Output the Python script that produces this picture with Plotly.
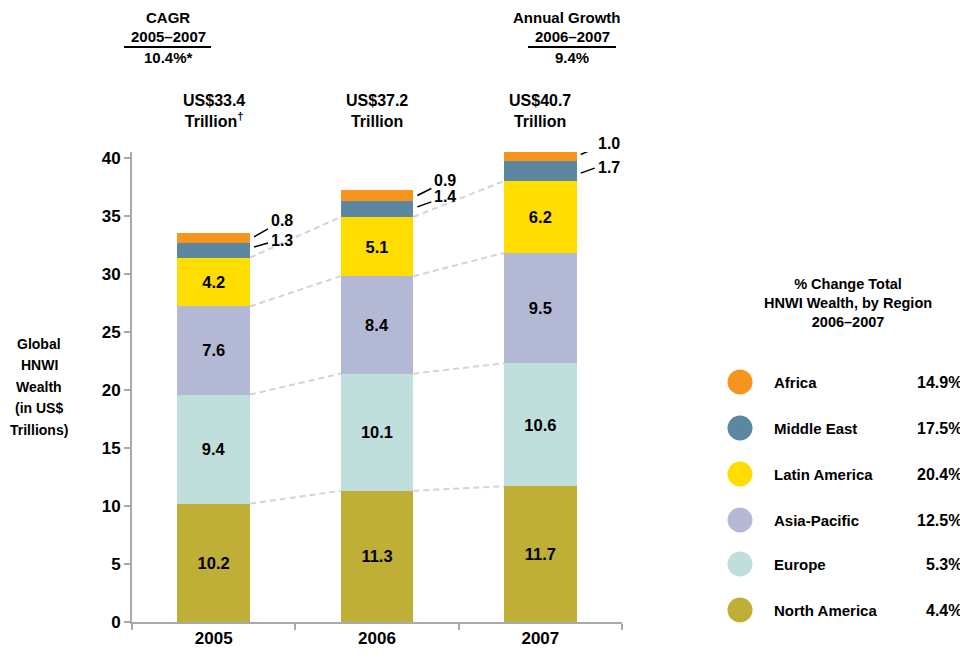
import plotly.graph_objects as go

# ---------------- data ----------------
years = ["2005", "2006", "2007"]
regions = ["North America", "Europe", "Asia-Pacific", "Latin America", "Middle East", "Africa"]
north_america = [10.2, 11.3, 11.7]
europe = [9.4, 10.1, 10.6]
asia_pacific = [7.6, 8.4, 9.5]
latin_america = [4.2, 5.1, 6.2]
middle_east = [1.3, 1.4, 1.7]
africa = [0.8, 0.9, 1.0]
totals = [33.4, 37.2, 40.7]
total_marks = ["†", "", ""]
pct_change = [4.4, 5.3, 12.5, 20.4, 17.5, 14.9]  # 2006-2007, same order as regions
cagr_2005_2007 = 10.4
growth_2006_2007 = 9.4
yticks = [0, 5, 10, 15, 20, 25, 30, 35, 40]

colors = ["#BFAF37", "#BFDEDC", "#B3B8D4", "#FFDD00", "#5C87A0", "#F7941E"]
series = [north_america, europe, asia_pacific, latin_america, middle_east, africa]

# ---------------- layout constants ----------------
W, H = 968, 660
OFF = 8  # page body margin
# plot area in page pixels: x 132..622, y 152..622
PL, PR, PT, PB = 132, 622, 152, 622
L, R, T, B = PL - OFF, W - (PR - OFF), PT - OFF, H - (PB - OFF)
PW, PH = PR - PL, PB - PT
FONT = "Liberation Sans, Arial, sans-serif"
BW = 0.445
YMAX = 40.5


def px(xp):
    return (xp - PL) / PW


def py(yp):
    return (PB - yp) / PH


fig = go.Figure()
x_idx = list(range(len(years)))

for k, (name, vals, col) in enumerate(zip(regions, series, colors)):
    bar = dict(x=x_idx, y=vals, name=name, marker=dict(color=col, line=dict(width=0)),
               width=BW, hoverinfo="skip", showlegend=False)
    if k < 4:  # large segments carry their value inside
        bar.update(text=[f"{v:.1f}" for v in vals], textposition="inside",
                   insidetextanchor="middle", textangle=0, constraintext="none",
                   textfont=dict(family=FONT, size=16.5, color="black", weight=700))
    else:
        bar.update(textposition="none")
    fig.add_trace(go.Bar(**bar))

# cumulative tops
cum = []
run = [0.0] * len(years)
for vals in series:
    run = [a + b for a, b in zip(run, vals)]
    cum.append(run[:])

shapes = []
annotations = []

# dashed connectors for the first four regions
for k in range(4):
    for i in range(len(years) - 1):
        shapes.append(dict(type="line", xref="x", yref="y",
                           x0=i + BW / 2, y0=cum[k][i], x1=i + 1 - BW / 2, y1=cum[k][i + 1],
                           line=dict(color="#D4D4D4", width=2, dash="6px,4px"), layer="below"))

# leader lines + labels for small segments (pixel offsets per year: line start, line end, label)
leader_style = {
    5: ([1, 0, 1], [9, 7, 7], [17, 15, 12]),   # Africa
    4: ([3, 2, -2], [7, 7, 3], [10, 12, 4]),   # Middle East
}
for k, (starts, ends, labs) in leader_style.items():
    for i in range(len(years)):
        bottom = cum[k][i] - series[k][i]
        mid = bottom + series[k][i] / 2
        shapes.append(dict(type="line", xref="x", yref="y",
                           xsizemode="pixel", xanchor=i + BW / 2, x0=4, x1=18,
                           ysizemode="pixel", yanchor=mid, y0=starts[i], y1=ends[i],
                           line=dict(color="black", width=1.5)))
        annotations.append(dict(x=i + BW / 2, y=mid, xref="x", yref="y", xshift=19, yshift=labs[i],
                                text=f"{series[k][i]:.1f}", showarrow=False, xanchor="left",
                                yanchor="middle",
                                font=dict(family=FONT, size=16, color="black", weight=700)))

# totals above bars
for i, (t, m) in enumerate(zip(totals, total_marks)):
    annotations.append(dict(x=i, y=py(111), xref="x", yref="paper", showarrow=False,
                            text=f"US${t:.1f}<br>Trillion{('<sup>' + m + '</sup>') if m else ''}",
                            font=dict(family=FONT, size=16, color="black", weight=700),
                            align="center", xanchor="center", yanchor="middle"))


# header: CAGR & annual growth
def header(cx, lines, ul_x0, ul_x1, cx_first=None):
    ys = [17, 37, 57]
    for j, (line, yy) in enumerate(zip(lines, ys)):
        annotations.append(dict(x=px(cx_first if (j == 0 and cx_first) else cx), y=py(yy),
                                xref="paper", yref="paper", showarrow=False, text=line,
                                font=dict(family=FONT, size=15, color="black", weight=700),
                                xanchor="center", yanchor="middle"))
    shapes.append(dict(type="line", xref="paper", yref="paper", x0=px(ul_x0), x1=px(ul_x1),
                       y0=py(47), y1=py(47), line=dict(color="black", width=2)))


header(168, ["CAGR", "2005–2007", f"{cagr_2005_2007:.1f}%*"], 124, 211)
header(572, ["Annual Growth", "2006–2007", f"{growth_2006_2007:.1f}%"], 528, 616, cx_first=567)

# y-axis title, one line at a time for the looser leading
for line, yy in zip(["Global", "HNWI", "Wealth", "(in US$", "Trillions)"], [344, 365, 387, 408, 430]):
    annotations.append(dict(x=px(39), y=py(yy), xref="paper", yref="paper", showarrow=False,
                            text=line, xanchor="center", yanchor="middle",
                            font=dict(family=FONT, size=14, color="black", weight=700)))

# legend title
annotations.append(dict(x=px(848), y=py(303), xref="paper", yref="paper", showarrow=False,
                        text="% Change Total<br>HNWI Wealth, by Region<br>2006–2007", align="center",
                        xanchor="center", yanchor="middle",
                        font=dict(family=FONT, size=14.5, color="black", weight=700)))

# custom legend
row_y = [610, 564, 520, 474, 428, 382]  # bottom-up, same order as regions
for name, col, pc, yy in zip(regions, colors, pct_change, row_y):
    shapes.append(dict(type="circle", xref="paper", yref="paper",
                       x0=px(740 - 12.5), x1=px(740 + 12.5), y0=py(yy + 12.5), y1=py(yy - 12.5),
                       fillcolor=col, line=dict(width=0)))
    annotations.append(dict(x=px(772), y=py(yy), xref="paper", yref="paper", showarrow=False,
                            text=name, xanchor="left", yanchor="middle",
                            font=dict(family=FONT, size=15, color="black", weight=700)))
    annotations.append(dict(x=px(964), y=py(yy), xref="paper", yref="paper", showarrow=False,
                            text=f"{pc:.1f}%", xanchor="right", yanchor="middle",
                            font=dict(family=FONT, size=16, color="black", weight=700)))

fig.update_layout(
    width=W, height=H, margin=dict(l=L, r=R, t=T, b=B, autoexpand=False),
    barmode="stack", plot_bgcolor="white", paper_bgcolor="white",
    shapes=shapes, annotations=annotations, showlegend=False,
    xaxis=dict(range=[-0.5, 2.5], tickvals=x_idx, ticktext=years, showgrid=False, zeroline=False,
               showline=True, linecolor="#A7A9AC", linewidth=2, ticks="",
               tickfont=dict(family=FONT, size=17, color="black", weight=700)),
    yaxis=dict(range=[0, YMAX], tickvals=yticks, showgrid=False, zeroline=False,
               showline=True, linecolor="#A7A9AC", linewidth=2, ticks="outside", ticklen=6,
               tickcolor="#A7A9AC", tickwidth=2,
               tickfont=dict(family=FONT, size=17, color="black", weight=700)),
)

# x-axis boundary ticks drawn as minor ticks
fig.update_xaxes(minor=dict(tickvals=[-0.5, 0.5, 1.5, 2.5], ticks="outside", ticklen=6,
                            tickcolor="#A7A9AC", tickwidth=2))

fig.write_html("out.html")
